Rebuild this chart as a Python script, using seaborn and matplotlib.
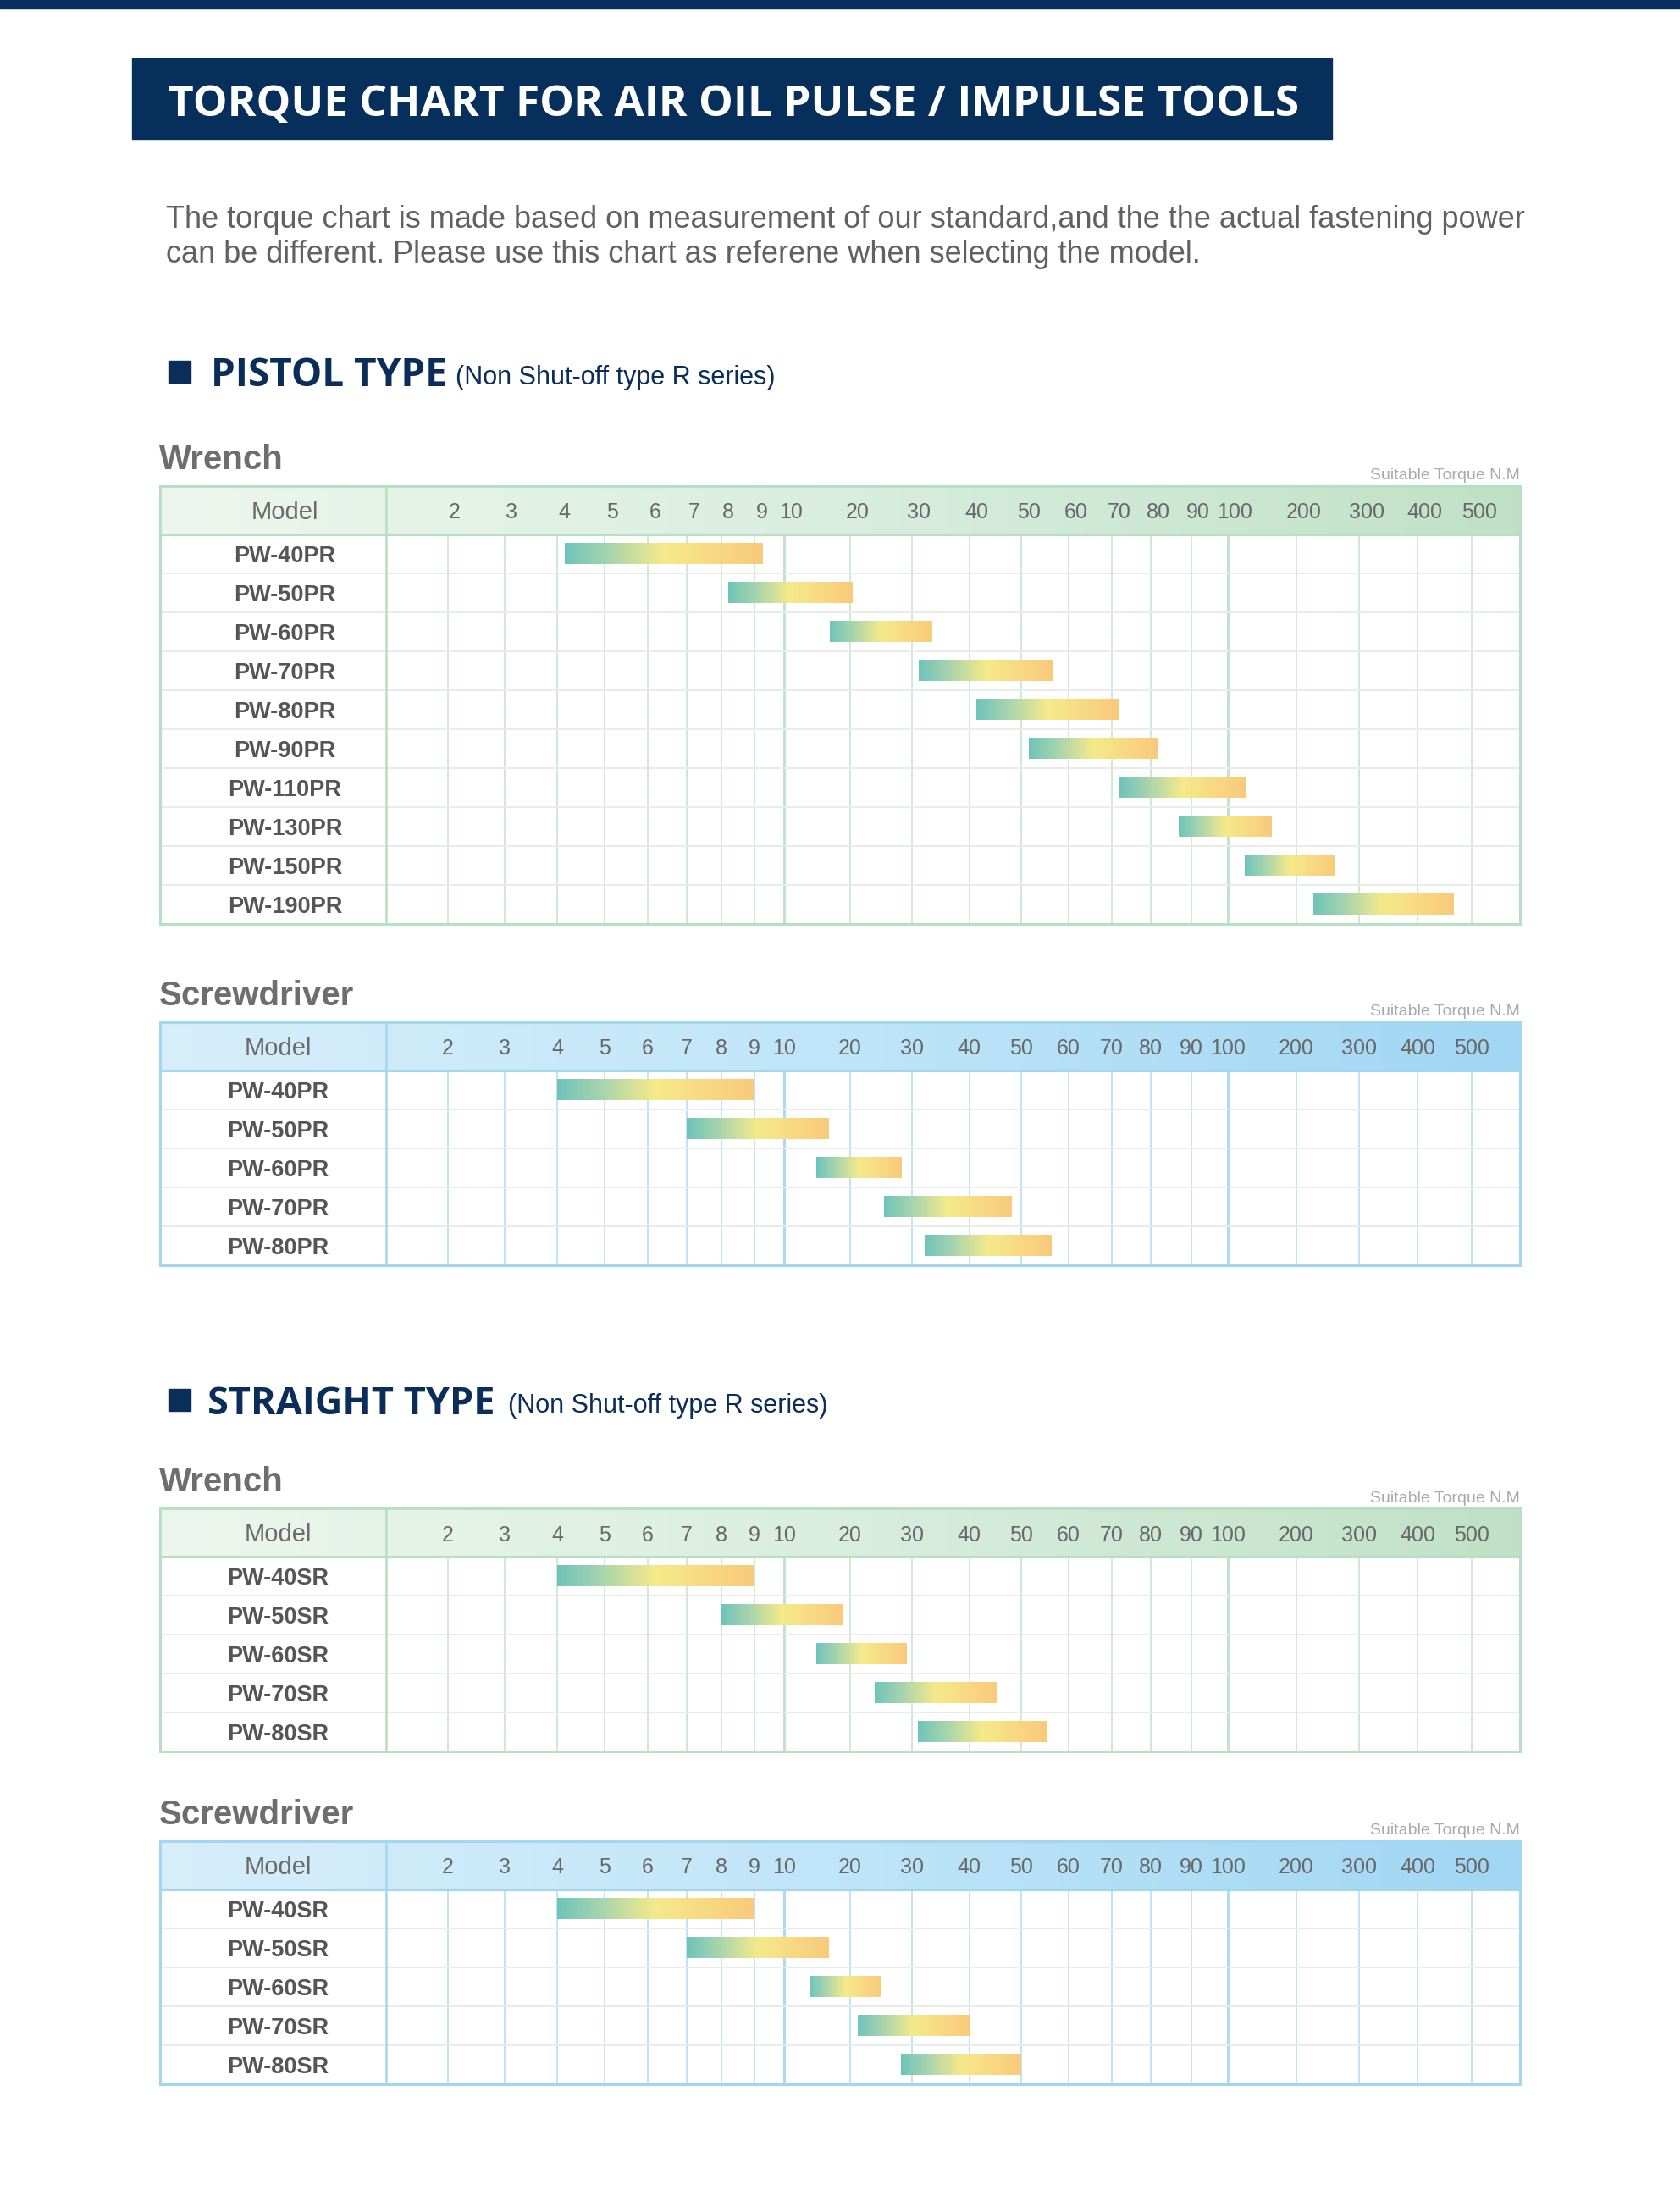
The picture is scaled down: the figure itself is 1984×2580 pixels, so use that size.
import numpy as np
import pandas as pd
import matplotlib
matplotlib.use('Agg')
import matplotlib.pyplot as plt
import matplotlib.transforms as mtransforms
from matplotlib.patches import Rectangle
from matplotlib.colors import LinearSegmentedColormap
import seaborn as sns

sns.set_theme(style='white')
plt.rcParams['font.family'] = ['Liberation Sans', 'DejaVu Sans']

# ---- data ----
torque_ticks = [2, 3, 4, 5, 6, 7, 8, 9, 10, 20, 30, 40, 50, 60, 70, 80, 90, 100, 200, 300, 400, 500]
tick_labels = [str(t) for t in torque_ticks]

pistol_wrench_models = ['PW-40PR', 'PW-50PR', 'PW-60PR', 'PW-70PR', 'PW-80PR',
                        'PW-90PR', 'PW-110PR', 'PW-130PR', 'PW-150PR', 'PW-190PR']
pistol_wrench_low = [4, 8, 15, 30, 40, 50, 70, 85, 110, 213]
pistol_wrench_high = [9, 19, 32, 55, 70, 80, 110, 145, 245, 450]

pistol_driver_models = ['PW-40PR', 'PW-50PR', 'PW-60PR', 'PW-70PR', 'PW-80PR']
pistol_driver_low = [4, 7, 14, 25, 32]
pistol_driver_high = [9, 16, 28, 48, 56]

straight_wrench_models = ['PW-40SR', 'PW-50SR', 'PW-60SR', 'PW-70SR', 'PW-80SR']
straight_wrench_low = [4, 8, 14, 23.5, 31]
straight_wrench_high = [9, 18.5, 29, 45, 55]

straight_driver_models = ['PW-40SR', 'PW-50SR', 'PW-60SR', 'PW-70SR', 'PW-80SR']
straight_driver_low = [4, 7, 13, 21, 28]
straight_driver_high = [9, 16, 24.5, 40, 50]

# ---- layout (pixels, y from top) ----
W, H = 1984, 2580
TABLE_L, TABLE_R = 189, 1795
CHART_L, CHART_R = 456, 1795
MODEL_CX = 328
HEAD_H, ROW_H = 57, 46
NAVY = '#062f5c'

# where the torque grid lines sit across the chart (piecewise log scale of the original)
grid_px = np.array([528.5, 596, 658, 714, 765, 811, 851.5, 891, 926, 1004, 1076.5, 1144.5,
                    1206, 1262, 1313, 1359, 1406.5, 1450, 1531, 1605, 1674, 1738])
log_t = np.log10(torque_ticks)
s0 = (grid_px[1] - grid_px[0]) / (log_t[1] - log_t[0])
s1 = (grid_px[-1] - grid_px[-2]) / (log_t[-1] - log_t[-2])


def to_px(v):
    lv = np.log10(np.clip(np.asarray(v, dtype=float), 1e-9, None))
    out = np.interp(lv, log_t, grid_px)
    out = np.where(lv < log_t[0], grid_px[0] + (lv - log_t[0]) * s0, out)
    return np.where(lv > log_t[-1], grid_px[-1] + (lv - log_t[-1]) * s1, out)


def from_px(p):
    p = np.asarray(p, dtype=float)
    lv = np.interp(p, grid_px, log_t)
    lv = np.where(p < grid_px[0], log_t[0] + (p - grid_px[0]) / s0, lv)
    lv = np.where(p > grid_px[-1], log_t[-1] + (p - grid_px[-1]) / s1, lv)
    return 10 ** lv


def fx(x):
    return x / W


def fy(y):
    return 1 - y / H


def rect(x0, y0, x1, y1):
    return [x0 / W, 1 - y1 / H, (x1 - x0) / W, (y1 - y0) / H]


bar_cmap = LinearSegmentedColormap.from_list(
    'bar', [(0, '#6fc4bb'), (0.22, '#a6d4ae'), (0.5, '#f5ea8a'), (0.75, '#f8d983'), (1, '#f9ca7b')])
themes = {
    'green': dict(head=LinearSegmentedColormap.from_list('hg', ['#edf6ee', '#d9ede0', '#c0e1c6']),
                  border='#b7dfc1', grid='#c3e4ca'),
    'blue': dict(head=LinearSegmentedColormap.from_list('hb', ['#d7eefb', '#bfe5f8', '#a0d6f3']),
                 border='#a5d6f0', grid='#aedbf2'),
}
grad = np.linspace(0, 1, 256)[None, :]

fig = plt.figure(figsize=(W / 100, H / 100), dpi=100)
fig.patch.set_facecolor('white')

# top strip and title box
fig.add_artist(Rectangle((0, fy(10)), 1, 10 / H, transform=fig.transFigure, color=NAVY))
fig.add_artist(Rectangle((fx(156), fy(164)), (1573 - 156) / W, 95 / H, transform=fig.transFigure, color=NAVY))
fig.text(fx(199), fy(137), 'TORQUE CHART FOR AIR OIL PULSE / IMPULSE TOOLS', ha='left', va='baseline',
         fontsize=37, fontweight='bold', color='white', family=['Open Sans', 'DejaVu Sans'])

fig.text(fx(196), fy(280),
         'The torque chart is made based on measurement of our standard,and the the actual fastening power\n'
         'can be different. Please use this chart as referene when selecting the model.',
         ha='left', va='center', fontsize=26, color='#616161', linespacing=1.22)


def section(baseline, name, note, name_x, note_x, size):
    fig.add_artist(Rectangle((fx(199), fy(baseline - 4)), 26 / W, 26 / H,
                             transform=fig.transFigure, color='#0b2d5a'))
    fig.text(fx(name_x), fy(baseline), name, ha='left', va='baseline', fontsize=size, fontweight='bold',
             color='#0b2d5a', family=['Open Sans', 'DejaVu Sans'])
    fig.text(fx(note_x), fy(baseline - 2), note, ha='left', va='baseline', fontsize=22, color='#0b2d5a')


def draw_table(top, title, models, low, high, theme, shift=0):
    pal = themes[theme]
    n = len(models)
    body_top = top + HEAD_H
    bottom = body_top + n * ROW_H

    fig.text(fx(TABLE_L - 1), fy(top - 20), title, ha='left', va='baseline', fontsize=29,
             fontweight='bold', color='#6e6e6e')
    fig.text(fx(TABLE_R), fy(top - 12), 'Suitable Torque N.M', ha='right', va='center',
             fontsize=14, color='#aaaaaa')

    # header band
    ax_h = fig.add_axes(rect(TABLE_L, top, TABLE_R, body_top))
    ax_h.imshow(grad, cmap=pal['head'], aspect='auto', extent=(0, 1, 0, 1))
    ax_h.set_axis_off()
    ax_h.text((MODEL_CX + shift - TABLE_L) / (TABLE_R - TABLE_L), 0.46, 'Model', ha='center',
              va='center', fontsize=21, color='#6b6b6b')

    # body with the torque ranges
    ax = fig.add_axes(rect(CHART_L, body_top, CHART_R, bottom))
    df = pd.DataFrame({'model': models, 'low': low, 'high': high})
    df['span'] = df['high'] - df['low']
    sns.barplot(data=df, x='span', y='model', orient='h', left=df['low'].to_numpy(),
                width=0.54, color='white', errorbar=None, ax=ax)
    ax.set_xscale('function', functions=(to_px, from_px))
    xlim = (float(from_px(CHART_L - shift)), float(from_px(CHART_R - shift)))
    ax.set_xlim(*xlim)
    ax.set_ylim(n - 0.5, -0.5)
    ax.set_xlabel('')
    ax.set_ylabel('')
    for s in ax.spines.values():
        s.set_visible(False)

    off = mtransforms.ScaledTranslation(-shift / 100, 0, fig.dpi_scale_trans)
    tr = ax.get_xaxis_transform() + off
    thin = [t for t in torque_ticks if t not in (10, 100)]
    ax.vlines(thin, 0, 1, transform=tr, colors=pal['grid'], lw=1.1, zorder=1)
    ax.vlines([10, 100], 0, 1, transform=tr, colors=pal['grid'], lw=2.2, zorder=1)
    model_frac = (TABLE_L - CHART_L) / (CHART_R - CHART_L)
    ax.hlines(np.arange(n - 1) + 0.5, model_frac, 1, transform=ax.get_yaxis_transform(),
              colors='#ebebeb', lw=1.4, clip_on=False, zorder=1)

    for p in list(ax.patches):
        x0, x1 = p.get_x(), p.get_x() + p.get_width()
        y0, y1 = p.get_y(), p.get_y() + p.get_height()
        p.set_visible(False)
        ax.imshow(grad, cmap=bar_cmap, aspect='auto', interpolation='bilinear',
                  extent=(float(to_px(x0)), float(to_px(x1)), y1, y0),
                  transform=ax.transLimits + ax.transAxes, zorder=3)
    ax.set_xlim(*xlim)
    ax.set_ylim(n - 0.5, -0.5)

    ax.set_xticks(torque_ticks, labels=tick_labels)
    ax.xaxis.set_ticks_position('top')
    ax.tick_params(axis='x', length=0, pad=(HEAD_H / 2 - 3) * 0.72, labelsize=18, labelcolor='#686868',
                   labeltop=True, labelbottom=False)
    for lbl in ax.get_xticklabels():
        lbl.set_va('center')
    ax.tick_params(axis='y', length=0, pad=(CHART_L - MODEL_CX - shift) * 0.72, labelsize=19.5,
                   labelcolor='#555555')
    for lbl in ax.get_yticklabels():
        lbl.set_ha('center')
        lbl.set_fontweight('bold')

    # outer frame, header rule and model column rule
    ax_f = fig.add_axes(rect(TABLE_L, top, TABLE_R, bottom), zorder=5)
    ax_f.patch.set_alpha(0)
    ax_f.set_xticks([])
    ax_f.set_yticks([])
    ax_f.set_xlim(TABLE_L, TABLE_R)
    ax_f.set_ylim(bottom, top)
    for s in ax_f.spines.values():
        s.set_visible(True)
        s.set_color(pal['border'])
        s.set_linewidth(2.2)
    ax_f.axhline(body_top, color=pal['border'], lw=2.2)
    ax_f.axvline(CHART_L, color=pal['border'], lw=1.8)


section(456, 'PISTOL TYPE', '(Non Shut-off type R series)', 249, 538, 33)
draw_table(574, 'Wrench', pistol_wrench_models, pistol_wrench_low, pistol_wrench_high, 'green', shift=8.5)
draw_table(1207, 'Screwdriver', pistol_driver_models, pistol_driver_low, pistol_driver_high, 'blue')

section(1670, 'STRAIGHT TYPE', '(Non Shut-off type R series)', 245, 600, 32.5)
draw_table(1781, 'Wrench', straight_wrench_models, straight_wrench_low, straight_wrench_high, 'green')
draw_table(2174, 'Screwdriver', straight_driver_models, straight_driver_low, straight_driver_high, 'blue')

fig.savefig('out.png', dpi=100, facecolor='white')
